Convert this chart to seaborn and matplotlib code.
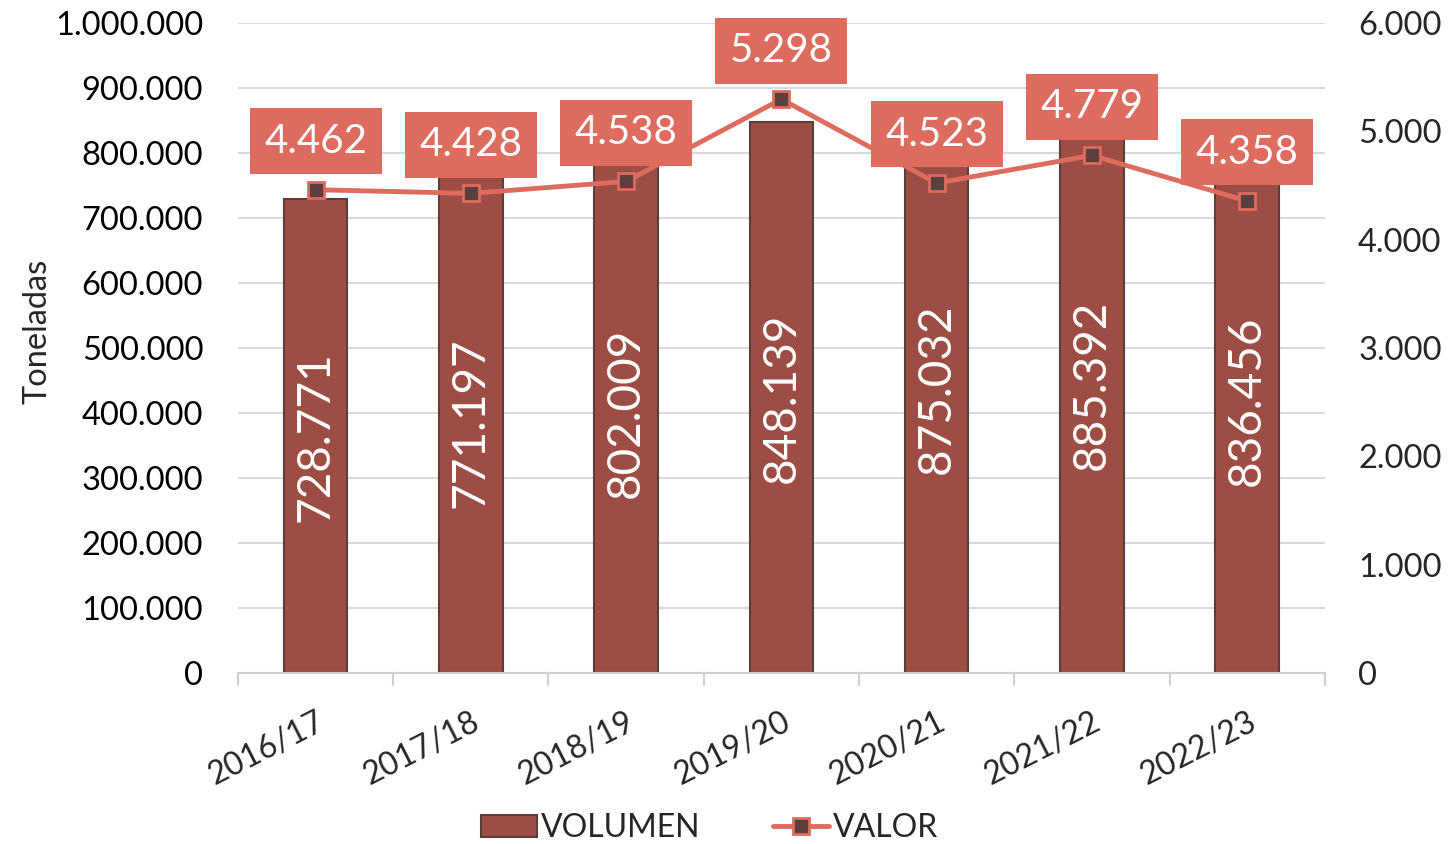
import matplotlib
matplotlib.use("Agg")
import matplotlib.pyplot as plt
import seaborn as sns
import pandas as pd
from matplotlib.ticker import FuncFormatter, FixedLocator
from matplotlib.lines import Line2D
from matplotlib.patches import Patch

# ── DATA ─────────────────────────────────────────────
campanas = ["2016/17", "2017/18", "2018/19", "2019/20", "2020/21", "2021/22", "2022/23"]
volumen = [728771, 771197, 802009, 848139, 875032, 885392, 836456]
valor = [4462, 4428, 4538, 5298, 4523, 4779, 4358]

BAR = "#9E4D45"
BAR_EDGE = "#5A3E3B"
LINE = "#DD6B5E"
MARK = "#5B403D"

sns.set_theme(style="white")
plt.rcParams["font.family"] = ["Lato", "DejaVu Sans"]


def miles(x, pos=None):
    return f"{int(round(x)):,}".replace(",", ".")


df = pd.DataFrame({"campana": campanas, "volumen": volumen, "valor": valor})

fig = plt.figure(figsize=(14.51, 8.44), dpi=100)
ax = fig.add_axes([0.164, 0.2026, 0.749, 0.770])

sns.barplot(data=df, x="campana", y="volumen", color=BAR, width=0.41,
            edgecolor=BAR_EDGE, linewidth=1.5, saturation=1, ax=ax, zorder=2)
ax.set_ylim(0, 1000000)
ax.set_xlim(-0.5, len(campanas) - 0.5)
ax.yaxis.set_major_locator(FixedLocator(range(0, 1000001, 100000)))
ax.yaxis.set_major_formatter(FuncFormatter(miles))
ax.grid(axis="y", color="#D9D9D9", linewidth=1.5, zorder=0)
ax.set_axisbelow(True)
for s in ["top", "right", "left"]:
    ax.spines[s].set_visible(False)
ax.spines["bottom"].set_color("#D0D0D0")
ax.spines["bottom"].set_linewidth(1.5)
ax.tick_params(axis="y", length=0, labelsize=23.5, pad=25, labelcolor="black")
ax.set_xticks(range(len(campanas)))
ax.set_xticklabels(campanas, rotation=27, ha="right", rotation_mode="anchor",
                   fontsize=23)
ax.tick_params(axis="x", length=0, pad=24)
# separadores de categoria
for b in [i - 0.5 for i in range(len(campanas) + 1)]:
    ax.plot([b, b], [0, -0.018], transform=ax.get_xaxis_transform(),
            color="#D0D0D0", lw=1.5, clip_on=False)
ax.set_xlabel("")
ax.set_ylabel("Toneladas", fontsize=23.5)
ax.yaxis.set_label_coords(-0.171, 0.525)

for i, v in enumerate(volumen):
    ax.text(i, v / 2, miles(v), rotation=90, ha="center", va="center",
            color="white", fontsize=33, zorder=3)

ax2 = ax.twinx()
ax2.set_ylim(0, 6000)
ax2.yaxis.set_major_locator(FixedLocator(range(0, 6001, 1000)))
ax2.yaxis.set_major_formatter(FuncFormatter(miles))
ax2.tick_params(axis="y", length=0, labelsize=23.5, pad=24)
for s in ax2.spines.values():
    s.set_visible(False)
ax2.grid(False)
ax2.plot(range(len(valor)), valor, color=LINE, lw=3.5, marker="s",
         markersize=12, markerfacecolor=MARK, markeredgecolor=LINE,
         markeredgewidth=2, zorder=4)

for i, v in enumerate(valor):
    ax2.annotate(miles(v), (i, v), xytext=(0, 35), textcoords="offset points",
                 ha="center", va="center", color="white", fontsize=29,
                 bbox=dict(boxstyle="square,pad=0.36", fc=LINE, ec="none"),
                 zorder=5)

handles = [Patch(facecolor=BAR, edgecolor=BAR_EDGE, linewidth=1.5),
           Line2D([0], [0], color=LINE, lw=3.5, marker="s", markersize=12,
                  markerfacecolor=MARK, markeredgecolor=LINE, markeredgewidth=2)]
fig.legend(handles, ["VOLUMEN", "VALOR"], loc="lower center",
           bbox_to_anchor=(0.489, -0.033), ncol=2, frameon=False, fontsize=23,
           handlelength=1.75, handletextpad=0.1, columnspacing=2.3)

fig.savefig("out.png", dpi=100)
